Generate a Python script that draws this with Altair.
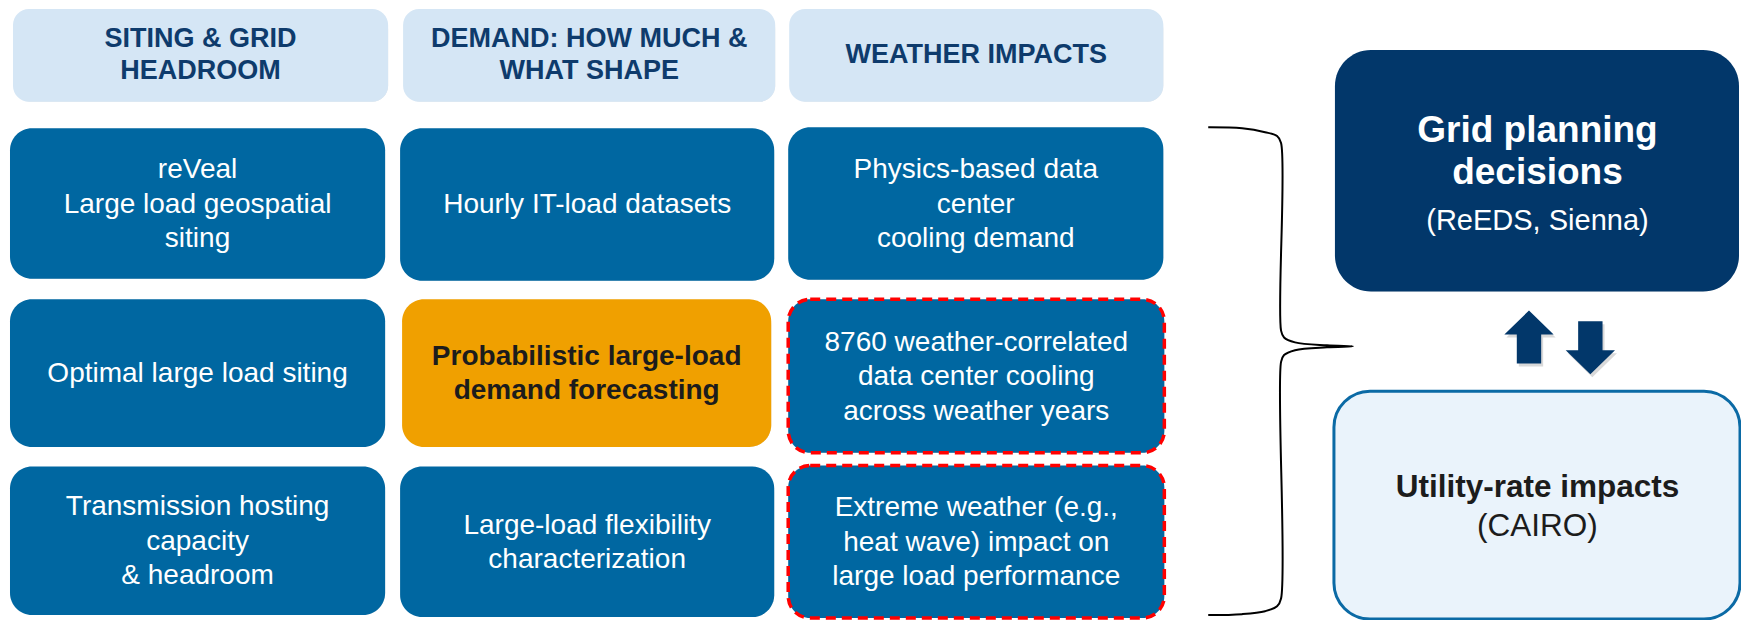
import altair as alt
import pandas as pd

FONT = "Liberation Sans"
W, H = 1733, 612
DOM_Y = [2, 628]
PX = (DOM_Y[1] - DOM_Y[0]) / H  # data units per pixel (vertical)

# ---------------- layout data (reference pixel frame 1749 x 628) ----------------
header_labels = ["SITING & GRID\nHEADROOM", "DEMAND: HOW MUCH &\nWHAT SHAPE", "WEATHER IMPACTS"]
header_x0 = [13, 404, 791]
header_x1 = [389, 777, 1166]
header_y0 = [3, 3, 3]
header_y1 = [98, 98, 98]

cell_labels = [
    "reVeal\nLarge load geospatial\nsiting",
    "Hourly IT-load datasets",
    "Physics-based data\ncenter\ncooling demand",
    "Optimal large load siting",
    "Probabilistic large-load\ndemand forecasting",
    "8760 weather-correlated\ndata center cooling\nacross weather years",
    "Transmission hosting\ncapacity\n& headroom",
    "Large-load flexibility\ncharacterization",
    "Extreme weather (e.g.,\nheat wave) impact on\nlarge load performance",
]
cell_kind = ["plain", "plain", "plain", "plain", "focus", "dashed", "plain", "plain", "dashed"]
cell_x0 = [10, 401, 790, 10, 403, 790, 10, 401, 790]
cell_x1 = [386, 776, 1166, 386, 773, 1167, 386, 776, 1167]
cell_y0 = [125, 125, 124, 300, 300, 300, 471, 471, 470]
cell_y1 = [279, 281, 280, 451, 451, 457, 623, 625, 626]

side_names = ["grid", "utility"]
side_x0 = [1338, 1337]
side_x1 = [1743, 1744]
side_y0 = [45, 394]
side_y1 = [292, 627]

grid_title = "Grid planning\ndecisions"
grid_title_pos = (1541, 149)
grid_sub = "(ReEDS, Sienna)"
grid_sub_pos = (1541, 220)
util_title = "Utility-rate impacts"
util_title_pos = (1541, 493)
util_sub = "(CAIRO)"
util_sub_pos = (1541, 533)

bracket_x = [1211, 1245, 1268, 1280, 1284, 1284, 1287, 1298, 1330, 1356,
             1330, 1298, 1287, 1284, 1284, 1280, 1268, 1245, 1211]
bracket_y = [124, 125, 129, 133, 140, 332, 339, 344, 347, 348,
             349, 352, 357, 364, 606, 614, 619, 622, 623]

arrow_x = [1532.5, 1594]
arrow_y = [338.5, 349.5]
arrow_angle = [0, 180]

# ---------------- colours ----------------
C_HEAD = "#D5E6F5"
C_HEAD_TXT = "#0E3B6C"
C_BLUE = "#0067A1"
C_ORANGE = "#F0A000"
C_NAVY = "#02376A"
C_UTIL = "#EAF3FB"
C_UTIL_STROKE = "#0B6AA5"
C_DARK = "#1C1C1C"

HEAD_LH = 32
CELL_LH = 34.5
GRID_LH = 42


def first_line_y(center, label, lh):
    # Vega places the first line at y and stacks the rest below: shift the block up
    n = label.count("\n") + 1
    return center - (n - 1) * lh * PX / 2


# ---------------- frames ----------------
headers = pd.DataFrame({"label": header_labels, "x0": header_x0, "x1": header_x1,
                        "y0": header_y0, "y1": header_y1})
headers["xc"] = (headers.x0 + headers.x1) / 2
headers["yc"] = [first_line_y((a + b) / 2, t, HEAD_LH) for a, b, t in
                 zip(headers.y0, headers.y1, headers.label)]

cells = pd.DataFrame({"label": cell_labels, "kind": cell_kind, "x0": cell_x0, "x1": cell_x1,
                      "y0": cell_y0, "y1": cell_y1})
cells["xc"] = (cells.x0 + cells.x1) / 2
cells["yc"] = [first_line_y((a + b) / 2 + 1, t, CELL_LH) for a, b, t in
               zip(cells.y0, cells.y1, cells.label)]
cells["fill"] = cells.kind.map({"plain": C_BLUE, "focus": C_ORANGE, "dashed": C_BLUE})

side = pd.DataFrame({"name": side_names, "x0": side_x0, "x1": side_x1, "y0": side_y0, "y1": side_y1})

bracket = pd.DataFrame({"x": bracket_x, "y": bracket_y, "i": list(range(len(bracket_x)))})
arrows = pd.DataFrame({"x": arrow_x, "y": arrow_y, "ang": arrow_angle})

xs = alt.Scale(domain=[8, 1745], range=[0, W], nice=False, zero=False)
ys = alt.Scale(domain=DOM_Y, range=[0, H], nice=False, zero=False)


def rect_enc():
    return dict(
        x=alt.X("x0:Q", scale=xs, axis=None), x2="x1:Q",
        y=alt.Y("y0:Q", scale=ys, axis=None), y2="y1:Q",
    )


def pos(xf="xc", yf="yc"):
    return dict(x=alt.X(f"{xf}:Q", scale=xs, axis=None), y=alt.Y(f"{yf}:Q", scale=ys, axis=None))


# shadows
head_shadow = alt.Chart(headers).mark_rect(cornerRadius=16, fill="#000000", opacity=0.10,
                                           xOffset=2, yOffset=4).encode(**rect_enc())
cell_shadow = alt.Chart(cells).mark_rect(cornerRadius=22, fill="#000000", opacity=0.13,
                                         xOffset=2, yOffset=4).encode(**rect_enc())
side_shadow = alt.Chart(side[side.name == "grid"]).mark_rect(cornerRadius=36, fill="#000000", opacity=0.12,
                                                            xOffset=2, yOffset=4).encode(**rect_enc())

# boxes
head_box = alt.Chart(headers).mark_rect(cornerRadius=16, fill=C_HEAD).encode(**rect_enc())
cell_box = alt.Chart(cells[cells.kind != "dashed"]).mark_rect(cornerRadius=22).encode(
    color=alt.Color("fill:N", scale=None), **rect_enc())
dash_box = alt.Chart(cells[cells.kind == "dashed"]).mark_rect(
    cornerRadius=22, fill=C_BLUE, stroke="#FF0000", strokeWidth=3.5, strokeDash=[10, 6]
).encode(**rect_enc())
grid_box = alt.Chart(side[side.name == "grid"]).mark_rect(cornerRadius=36, fill=C_NAVY).encode(**rect_enc())
util_box = alt.Chart(side[side.name == "utility"]).mark_rect(
    cornerRadius=36, fill=C_UTIL, stroke=C_UTIL_STROKE, strokeWidth=3
).encode(**rect_enc())

# texts
head_txt = alt.Chart(headers).mark_text(font=FONT, fontSize=27, fontWeight="bold", color=C_HEAD_TXT,
                                        lineBreak="\n", lineHeight=HEAD_LH, align="center",
                                        baseline="middle").encode(text="label:N", **pos())
cell_plain_txt = alt.Chart(cells[cells.kind != "focus"]).mark_text(
    font=FONT, fontSize=28, color="#FFFFFF", lineBreak="\n", lineHeight=CELL_LH,
    align="center", baseline="middle").encode(text="label:N", **pos())
cell_focus_txt = alt.Chart(cells[cells.kind == "focus"]).mark_text(
    font=FONT, fontSize=28, fontWeight="bold", color=C_DARK, lineBreak="\n", lineHeight=CELL_LH,
    align="center", baseline="middle").encode(text="label:N", **pos())

side_txt_df = pd.DataFrame({
    "label": [grid_title, grid_sub, util_title, util_sub],
    "xc": [grid_title_pos[0], grid_sub_pos[0], util_title_pos[0], util_sub_pos[0]],
    "yc": [first_line_y(grid_title_pos[1], grid_title, GRID_LH), grid_sub_pos[1],
           util_title_pos[1], util_sub_pos[1]],
    "role": ["gt", "gs", "ut", "us"],
})
grid_t = alt.Chart(side_txt_df[side_txt_df.role == "gt"]).mark_text(
    font=FONT, fontSize=37, fontWeight="bold", color="#FFFFFF", lineBreak="\n", lineHeight=GRID_LH,
    align="center", baseline="middle").encode(text="label:N", **pos())
grid_s = alt.Chart(side_txt_df[side_txt_df.role == "gs"]).mark_text(
    font=FONT, fontSize=29, color="#FFFFFF", align="center", baseline="middle"
).encode(text="label:N", **pos())
util_t = alt.Chart(side_txt_df[side_txt_df.role == "ut"]).mark_text(
    font=FONT, fontSize=31.5, fontWeight="bold", color=C_DARK, align="center", baseline="middle"
).encode(text="label:N", **pos())
util_s = alt.Chart(side_txt_df[side_txt_df.role == "us"]).mark_text(
    font=FONT, fontSize=31.5, color=C_DARK, align="center", baseline="middle"
).encode(text="label:N", **pos())

# bracket
brace = alt.Chart(bracket).mark_line(color="#000000", strokeWidth=2, interpolate="catmull-rom").encode(
    x=alt.X("x:Q", scale=xs, axis=None), y=alt.Y("y:Q", scale=ys, axis=None), order="i:Q")

# arrows
ARROW = "M0,-1 L0.93,-0.094 L0.46,-0.094 L0.46,1 L-0.46,1 L-0.46,-0.094 L-0.93,-0.094 Z"
arrow_shadow = alt.Chart(arrows).mark_point(shape=ARROW, filled=True, size=2809, color="#000000",
                                            opacity=0.15, xOffset=2, yOffset=3).encode(
    angle=alt.Angle("ang:Q", scale=None), **pos("x", "y"))
arrow_mark = alt.Chart(arrows).mark_point(shape=ARROW, filled=True, size=2809, color=C_NAVY,
                                          opacity=1).encode(
    angle=alt.Angle("ang:Q", scale=None), **pos("x", "y"))

chart = alt.layer(
    head_shadow, cell_shadow, side_shadow,
    head_box, cell_box, dash_box, grid_box, util_box,
    head_txt, cell_plain_txt, cell_focus_txt, grid_t, grid_s, util_t, util_s,
    brace, arrow_shadow, arrow_mark,
).properties(
    width=W, height=H, padding=0, autosize=alt.AutoSizeParams(type="none")
).configure(background="#FFFFFF", view=alt.ViewConfig(stroke=None))

chart.save("out.html", embed_options={"renderer": "svg", "actions": False})
